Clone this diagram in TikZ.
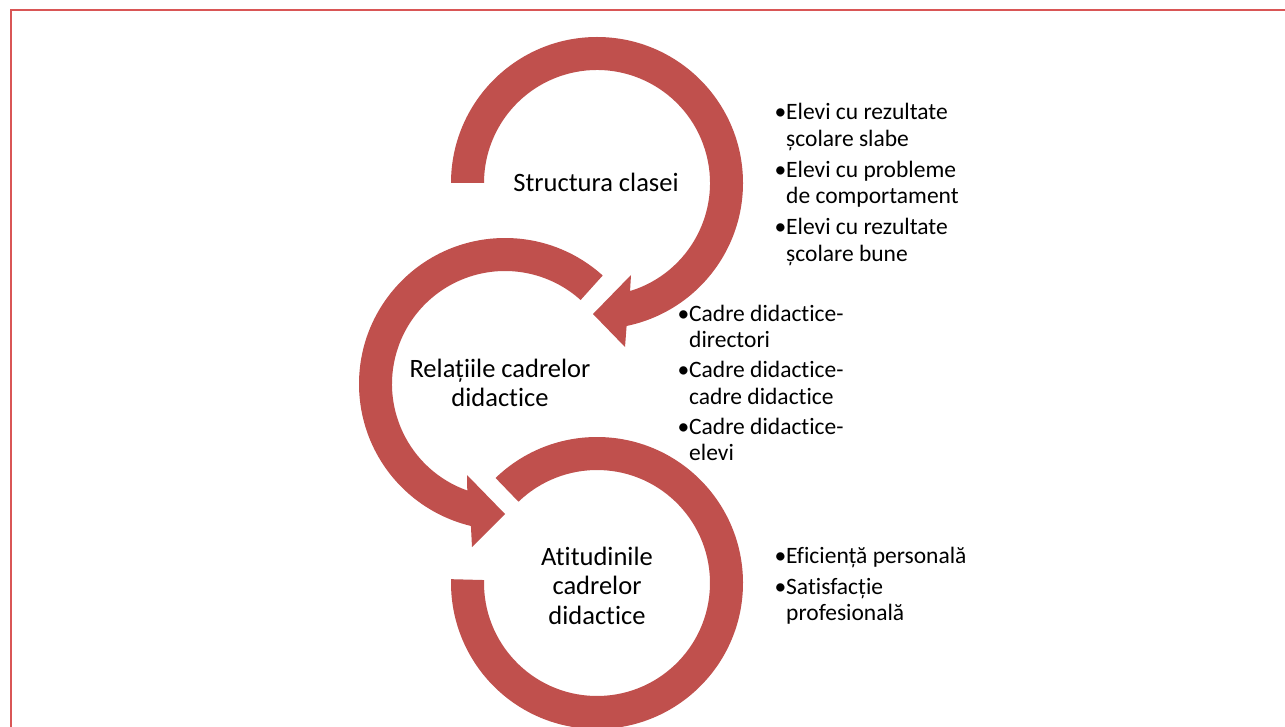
\documentclass[tikz,border=0pt]{standalone}
\usepackage{fontspec}
\setmainfont{Carlito}[Ligatures={NoCommon,NoRare,NoContextual}]
\usetikzlibrary{calc}
\definecolor{arrowred}{HTML}{C0504D}
\definecolor{framered}{RGB}{217,86,86}
\newcommand{\bulletmark}{\makebox[0pt][r]{•}}
\begin{document}
\begin{tikzpicture}[x=1pt,y=1pt,
  band/.style={fill=arrowred, draw=none},
  mainlabel/.style={align=center, font=\fontsize{26.5}{29.5}\selectfont, inner sep=0pt, anchor=base},
  bullist/.style={align=left, font=\fontsize{23.5}{26.5}\selectfont, inner sep=0pt, anchor=base west}]
\useasboundingbox (0,0) rectangle (1285,-727);
\clip (0,0) rectangle (1285,-727);
\fill[white] (0,0) rectangle (1285,-727);
\draw[framered, line width=2] (10.5,-10.5) rectangle (1300,-740);

\coordinate (C1) at (597,-183);
\coordinate (C2) at (505,-384);
\coordinate (C3) at (597,-583);

% circle 1
\fill[band] ($(C1)+(180:146)$) arc[start angle=180, end angle=-78.3, radius=146]
  -- (625,-347) -- (593,-314) -- (631,-275)
  -- ($(C1)+(-73:113)$) arc[start angle=-73, end angle=180, radius=113] -- cycle;
% circle 2
\fill[band] ($(C2)+(48:146)$) arc[start angle=48, end angle=256.5, radius=146]
  -- (472,-547) -- (505,-514) -- (467,-475)
  -- ($(C2)+(250.5:113)$) arc[start angle=250.5, end angle=48, radius=113] -- cycle;
% circle 3
\fill[band] ($(C3)+(134:146)$) arc[start angle=134, end angle=-181.5, radius=146]
  -- ($(C3)+(-181.5:113)$) arc[start angle=-181.5, end angle=134, radius=113] -- cycle;

% multi-line nodes: the base anchor sits on the last line's baseline
\node[mainlabel] (c1) at (596,-192) {Structura clasei};
\node[mainlabel] (c2) at (500,-406.5) {Relațiile cadrelor\\didactice};
\node[mainlabel] (c3) at (597,-624) {Atitudinile\\cadrelor\\didactice};

\node[bullist] (l1) at (786,-261.5) {\bulletmark Elevi cu rezultate\\școlare slabe\\[4.5pt]\bulletmark Elevi cu probleme\\de comportament\\[4.5pt]\bulletmark Elevi cu rezultate\\școlare bune};
\node[bullist] (l2) at (689,-460.5) {\bulletmark Cadre didactice-\\directori\\[3.5pt]\bulletmark Cadre didactice-\\cadre didactice\\[3.5pt]\bulletmark Cadre didactice-\\elevi};
\node[bullist] (l3) at (786,-620.5) {\bulletmark Eficiență personală\\[4.5pt]\bulletmark Satisfacție\\profesională};
\end{tikzpicture}
\end{document}
